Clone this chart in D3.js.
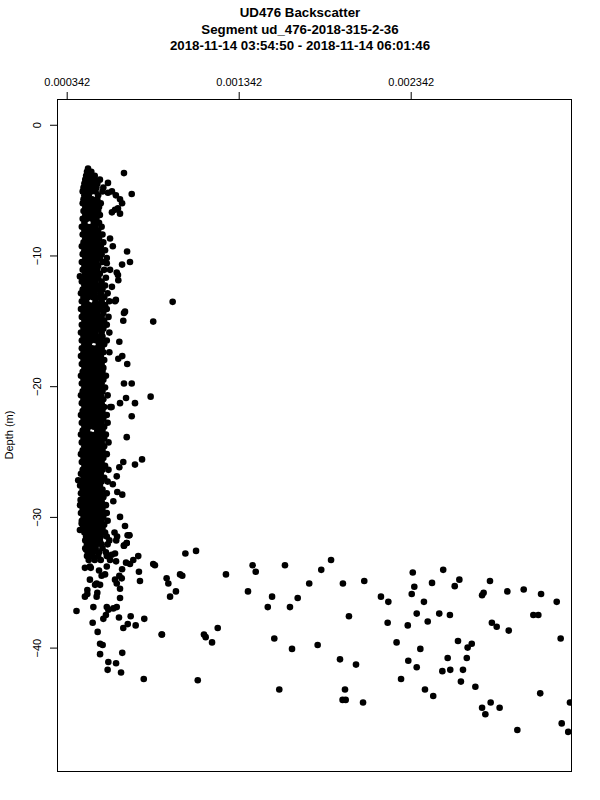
<!DOCTYPE html>
<html>
<head>
<meta charset="utf-8">
<script src="https://cdn.jsdelivr.net/npm/d3@7"></script>
<style>
  body { margin: 0; background: #fff; }
  svg { display: block; font-family: "Liberation Sans", Arial, sans-serif; }
</style>
</head>
<body>
<script>
// backscatter values are written in units of 1e-4
const BS_UNIT = 1e-4;

const titleLines = [
  "UD476 Backscatter",
  "Segment ud_476-2018-315-2-36",
  "2018-11-14 03:54:50 - 2018-11-14 06:01:46"
];
const yLabel = "Depth (m)";
const xTicks = [3.42, 13.42, 23.42];
const yTicks = [0, -10, -20, -30, -40];

// dense part of the profile: [depth, [backscatter...]]
const columnRows = [
  [-3.35, [4.66]],
  [-3.6, [4.60, 4.85]],
  [-3.9, [4.55, 4.80, 5.05]],
  [-4.2, [4.50, 4.75, 5.00, 5.35]],
  [-4.5, [4.45, 4.70, 4.95, 5.20]],
  [-4.8, [4.40, 4.65, 4.90, 5.15, 5.55]],
  [-5.1, [4.35, 4.60, 4.85, 5.10, 5.50]],
  [-5.4, [4.45, 4.70, 5.25]],
  [-5.7, [4.40, 4.65, 4.90, 5.20]],
  [-6.0, [4.35, 4.60, 4.85, 5.10, 5.40]],
  [-6.3, [4.50, 4.75, 5.00, 5.30]],
  [-6.6, [4.40, 4.65, 4.95, 5.25]],
  [-6.9, [4.50, 4.80, 5.05, 5.35]],
  [-7.2, [4.35, 4.60, 4.90, 5.15]],
  [-7.5, [4.45, 5.00, 5.30]],
  [-7.8, [4.30, 4.60, 4.85, 5.10, 5.45]],
  [-8.1, [4.45, 4.70, 4.95, 5.25]],
  [-8.4, [4.35, 4.60, 4.90, 5.20, 5.50]],
  [-8.7, [4.50, 4.75, 5.00, 5.30]],
  [-9.0, [4.40, 4.65, 4.95, 5.20, 5.55]],
  [-9.3, [4.30, 4.55, 4.85, 5.10, 5.40]],
  [-9.6, [4.45, 4.70, 5.00, 5.30, 5.65]],
  [-9.9, [4.35, 4.60, 4.90, 5.15, 5.45]],
  [-10.2, [4.50, 4.75, 5.05, 5.35, 5.75]],
  [-10.5, [4.30, 4.60, 4.85, 5.15, 5.50]],
  [-10.8, [4.45, 4.70, 5.00, 5.25]],
  [-11.1, [4.35, 4.65, 4.90, 5.20, 5.60]],
  [-11.4, [4.50, 4.80, 5.05, 5.35]],
  [-11.7, [4.40, 4.70, 4.95, 5.25, 5.70]],
  [-12.0, [4.30, 4.55, 4.85, 5.10, 5.45]],
  [-12.3, [4.45, 4.75, 5.00, 5.30, 5.65]],
  [-12.6, [4.35, 4.60, 4.90, 5.20, 5.50]],
  [-12.9, [4.25, 4.50, 4.80, 5.05, 5.40, 5.80]],
  [-13.2, [4.40, 4.65, 4.95, 5.25, 5.60]],
  [-13.5, [4.30, 4.55, 5.10, 5.45, 5.90]],
  [-13.8, [4.45, 4.70, 5.00, 5.30, 5.65]],
  [-14.1, [4.25, 4.55, 4.80, 5.10, 5.40, 5.75]],
  [-14.4, [4.40, 4.65, 4.95, 5.20, 5.55]],
  [-14.7, [4.30, 4.60, 4.85, 5.15, 5.45, 5.85]],
  [-15.0, [4.45, 4.70, 5.00, 5.30, 5.60]],
  [-15.3, [4.30, 4.55, 4.85, 5.10, 5.40, 5.75]],
  [-15.6, [4.40, 4.70, 4.95, 5.25, 5.55]],
  [-15.9, [4.25, 4.50, 4.80, 5.10, 5.45, 5.90]],
  [-16.2, [4.40, 4.65, 4.95, 5.20, 5.50]],
  [-16.5, [4.30, 4.55, 4.85, 5.15, 5.40, 5.75]],
  [-16.8, [4.45, 4.70, 5.30, 5.60]],
  [-17.1, [4.30, 4.60, 4.90, 5.15, 5.45]],
  [-17.4, [4.40, 4.65, 4.95, 5.25, 5.55, 5.90]],
  [-17.7, [4.25, 4.55, 4.80, 5.10, 5.40]],
  [-18.0, [4.40, 4.70, 5.00, 5.30, 5.60]],
  [-18.3, [4.30, 4.55, 4.85, 5.15, 5.45]],
  [-18.6, [4.45, 4.70, 4.95, 5.25, 5.55]],
  [-18.9, [4.35, 4.60, 4.90, 5.20, 5.50]],
  [-19.2, [4.25, 4.50, 4.80, 5.05, 5.35, 5.70]],
  [-19.5, [4.40, 4.65, 4.95, 5.25, 5.55]],
  [-19.8, [4.30, 4.55, 4.85, 5.15, 5.45]],
  [-20.1, [4.45, 4.70, 5.00, 5.30, 5.65]],
  [-20.4, [4.35, 4.60, 4.90, 5.20, 5.50]],
  [-20.7, [4.25, 4.50, 4.80, 5.10, 5.40, 5.80]],
  [-21.0, [4.40, 4.70, 4.95, 5.25, 5.55]],
  [-21.3, [4.30, 4.55, 4.85, 5.15, 5.45]],
  [-21.6, [4.45, 4.70, 5.00, 5.30, 5.60, 5.95]],
  [-21.9, [4.35, 4.60, 4.90, 5.20, 5.50]],
  [-22.2, [4.25, 4.50, 4.80, 5.10, 5.40, 5.75]],
  [-22.5, [4.40, 4.65, 4.95, 5.25, 5.55]],
  [-22.8, [4.30, 4.60, 4.85, 5.15, 5.45, 5.80]],
  [-23.1, [4.45, 4.70, 5.00, 5.30, 5.60]],
  [-23.4, [4.35, 4.60, 5.20, 5.50]],
  [-23.7, [4.25, 4.50, 4.80, 5.10, 5.40, 5.70]],
  [-24.0, [4.40, 4.65, 4.95, 5.25, 5.60]],
  [-24.3, [4.30, 4.55, 4.85, 5.15, 5.45, 5.85]],
  [-24.6, [4.45, 4.70, 5.00, 5.30, 5.60]],
  [-24.9, [4.35, 4.60, 4.90, 5.20, 5.50]],
  [-25.2, [4.25, 4.50, 4.80, 5.10, 5.40, 5.75]],
  [-25.5, [4.40, 4.65, 4.95, 5.25, 5.55]],
  [-25.8, [4.30, 4.55, 4.85, 5.15, 5.45]],
  [-26.1, [4.45, 4.70, 5.00, 5.30, 5.65]],
  [-26.4, [4.35, 4.60, 4.90, 5.20, 5.50, 5.85]],
  [-26.7, [4.25, 4.50, 4.80, 5.10, 5.40]],
  [-27.0, [4.40, 4.65, 4.95, 5.25, 5.60]],
  [-27.3, [4.30, 4.55, 4.85, 5.15, 5.45, 5.80]],
  [-27.6, [4.20, 4.45, 4.75, 5.05, 5.35]],
  [-27.9, [4.35, 4.60, 4.90, 5.20, 5.50]],
  [-28.2, [4.25, 4.50, 4.80, 5.10, 5.40, 5.75]],
  [-28.5, [4.40, 4.65, 4.95, 5.25, 5.55]],
  [-28.8, [4.30, 4.55, 4.85, 5.15, 5.45]],
  [-29.1, [4.20, 4.45, 4.75, 5.05, 5.35, 5.70]],
  [-29.4, [4.35, 4.60, 4.90, 5.20, 5.50]],
  [-29.7, [4.25, 4.50, 4.80, 5.10, 5.40, 5.75]],
  [-30.0, [4.40, 4.65, 4.95, 5.25, 5.55]],
  [-30.3, [4.30, 4.55, 4.85, 5.15, 5.45, 5.80]],
  [-30.6, [4.45, 4.70, 5.00, 5.30, 5.60]],
  [-30.9, [4.35, 4.60, 4.90, 5.20, 5.50]],
  [-31.2, [4.45, 4.70, 5.00, 5.30, 5.65, 6.20]],
  [-31.5, [4.55, 4.80, 5.10, 5.40, 5.75, 6.35]],
  [-31.8, [4.50, 4.75, 5.05, 5.35, 5.90, 6.30]],
  [-32.1, [4.60, 4.85, 5.15, 5.45, 5.80]],
  [-32.4, [4.50, 4.80, 5.10, 5.50]],
  [-32.7, [4.65, 4.95, 5.30, 5.70]],
  [-33.0, [4.60, 4.90, 5.25, 5.75]],
  [-33.3, [4.70, 5.05, 5.40]]
];

// points off the dense column: [backscatter, depth]
const columnEdge = [
  [6.75, -3.7], [7.20, -5.3], [5.82, -4.45], [5.82, -5.2], [6.05, -5.1], [6.28, -5.4],
  [6.52, -5.7], [6.64, -6.0], [6.40, -6.4], [6.23, -6.5], [6.05, -6.7], [6.52, -6.8],
  [5.94, -8.7], [6.10, -9.3], [6.93, -9.7], [7.10, -10.5], [6.64, -10.7], [5.75, -10.6],
  [5.94, -11.1], [6.33, -11.3], [6.42, -11.9], [4.19, -11.6], [6.40, -11.5], [6.05, -12.4],
  [6.28, -13.4], [6.23, -13.5], [9.58, -13.55], [8.45, -15.06], [6.75, -14.4], [6.81, -14.3],
  [6.71, -15.0], [6.48, -16.6], [6.65, -17.7], [6.42, -17.9], [6.94, -18.3], [6.75, -19.8],
  [7.20, -19.8], [6.87, -20.9], [8.30, -20.8], [7.39, -21.3], [6.52, -21.3], [6.03, -21.6],
  [7.20, -22.3], [6.91, -23.9], [7.80, -25.6], [6.71, -25.8], [7.39, -26.0], [6.48, -26.2],
  [6.33, -26.9], [4.09, -27.2], [6.10, -27.5], [6.36, -28.1], [6.65, -28.3], [4.23, -28.7],
  [6.13, -28.8], [6.52, -30.0], [4.29, -30.5], [6.81, -30.7], [4.19, -31.0], [6.96, -31.4],
  [6.75, -32.2], [6.91, -32.0], [7.06, -31.4]
];

// lower part of the profile, near the surface column: [backscatter, depth]
const lowerNear = [
  [3.99, -37.2], [4.77, -34.8], [4.48, -33.9], [4.82, -33.9], [4.62, -35.6], [4.62, -35.9],
  [4.48, -36.1], [5.20, -35.8], [5.16, -36.1], [4.97, -36.9], [4.93, -38.1], [5.22, -38.8],
  [5.36, -39.7], [5.51, -39.8], [5.36, -40.5], [5.84, -41.1], [6.29, -41.2], [5.80, -41.7],
  [6.58, -41.9], [6.65, -40.4], [7.43, -38.3], [7.93, -37.8], [7.14, -37.6], [6.97, -38.2],
  [6.71, -38.5], [6.46, -37.7], [6.13, -37.0], [6.33, -36.9], [5.55, -37.8], [5.70, -37.5],
  [5.84, -37.1], [5.75, -36.9], [5.16, -35.1], [5.36, -35.2], [5.07, -35.2], [5.45, -34.5],
  [5.65, -34.4], [5.75, -33.8], [6.04, -32.9], [6.23, -32.8], [5.94, -33.3], [6.29, -33.4],
  [6.48, -34.5], [6.62, -34.7], [6.33, -35.1], [6.23, -34.8], [6.52, -35.5], [6.52, -36.2],
  [6.64, -34.0], [6.87, -33.5], [7.10, -33.6], [7.29, -33.3], [7.58, -33.0], [7.62, -34.2],
  [7.68, -34.9], [6.75, -32.2], [6.91, -32.0], [7.06, -31.4], [4.77, -33.8], [5.30, -34.1],
  [4.54, -32.5], [7.90, -42.4], [8.94, -39.0], [8.45, -33.6], [8.55, -33.7]
];

// scattered high backscatter points below ~33 m: [backscatter, depth]
const lowerFar = [
  [9.23, -34.7], [9.33, -35.1], [10.01, -34.4], [10.14, -34.5], [9.77, -35.7], [9.43, -36.1],
  [10.32, -32.8], [10.94, -32.6], [12.68, -34.4], [14.23, -33.7], [14.41, -34.2], [16.11, -33.7],
  [13.96, -35.7], [15.36, -36.1], [15.11, -36.9], [16.40, -36.9], [16.85, -36.2], [8.96, -39.0],
  [11.40, -39.0], [11.50, -39.2], [11.87, -39.6], [12.20, -38.5], [15.49, -39.3], [16.52, -40.1],
  [11.04, -42.5], [15.78, -43.2],
  [18.79, -33.3], [18.22, -34.05], [17.52, -35.1], [19.48, -35.1], [20.72, -34.9], [19.83, -37.6],
  [21.69, -36.1], [22.12, -36.5], [22.08, -38.1], [23.54, -34.25], [23.63, -35.35], [23.48, -35.9],
  [24.19, -36.5], [23.77, -37.4], [23.25, -38.3], [24.41, -38.0], [24.66, -35.05], [25.31, -34.05],
  [25.08, -37.4], [25.70, -37.5], [25.98, -35.3], [26.25, -34.8], [22.60, -39.6], [23.98, -40.1],
  [23.28, -41.0], [23.77, -41.5], [22.86, -42.4], [24.25, -43.2], [24.73, -43.7], [26.17, -39.5],
  [25.57, -40.8], [25.26, -41.8], [25.72, -41.7], [26.46, -41.7], [26.73, -40.0], [26.97, -39.7],
  [26.68, -40.8], [26.34, -42.6], [27.18, -43.0], [27.57, -36.0], [27.66, -35.8], [28.03, -34.9],
  [28.14, -38.1], [28.42, -38.4], [29.12, -38.7], [29.04, -35.7], [29.99, -35.55], [31.00, -35.9],
  [31.91, -36.5], [30.55, -37.5], [30.84, -37.5], [32.14, -39.3], [27.57, -44.6], [27.76, -45.1],
  [28.07, -44.2], [28.59, -44.6], [29.62, -46.3], [30.95, -43.5], [32.68, -44.2], [32.20, -45.8],
  [32.58, -46.45], [19.31, -40.9], [20.24, -41.3], [19.60, -43.2], [19.46, -44.0], [19.64, -44.0],
  [20.65, -44.2], [18.01, -39.8]
];

const points = columnRows.flatMap(([d, xs]) => xs.map(b => [b, d]))
  .concat(columnEdge, lowerNear, lowerFar);

const width = 600, height = 800;
const box = { left: 57, right: 571, top: 99, bottom: 771 };

const svg = d3.select("body").append("svg")
  .attr("width", width)
  .attr("height", height);

const x = d3.scaleLinear()
  .domain([2.856, 32.74])
  .range([box.left, box.right]);

const y = d3.scaleLinear()
  .domain([1.97, -49.44])
  .range([box.top, box.bottom]);

svg.append("clipPath").attr("id", "plotclip")
  .append("rect")
  .attr("x", box.left).attr("y", box.top)
  .attr("width", box.right - box.left).attr("height", box.bottom - box.top);

// titles
svg.append("g")
  .selectAll("text")
  .data(titleLines)
  .join("text")
    .attr("x", 300)
    .attr("y", (d, i) => 17 + i * 16.5)
    .attr("text-anchor", "middle")
    .attr("font-size", 13.3)
    .attr("font-weight", "bold")
    .text(d => d);

// top axis
const xAxis = d3.axisTop(x)
  .tickValues(xTicks)
  .tickSize(7)
  .tickPadding(6)
  .tickFormat(v => (v * BS_UNIT).toFixed(6));

const gx = svg.append("g")
  .attr("transform", `translate(0,${box.top})`)
  .call(xAxis);
gx.select(".domain").remove();
gx.selectAll("text").attr("font-size", 11).attr("font-family", "Liberation Sans, Arial, sans-serif");
gx.selectAll("line").attr("stroke", "#000");

// left axis
const yAxis = d3.axisLeft(y)
  .tickValues(yTicks)
  .tickSize(7)
  .tickFormat(d => d3.format("d")(d));

const gy = svg.append("g")
  .attr("transform", `translate(${box.left},0)`)
  .call(yAxis);
gy.select(".domain").remove();
gy.selectAll("line").attr("stroke", "#000");
gy.selectAll("text")
  .attr("font-size", 11)
  .attr("font-family", "Liberation Sans, Arial, sans-serif")
  .attr("x", null).attr("dy", null)
  .attr("text-anchor", "middle")
  .attr("transform", "translate(-16.5,0) rotate(-90)");

svg.append("text")
  .attr("transform", `translate(12.5,${(box.top + box.bottom) / 2}) rotate(-90)`)
  .attr("text-anchor", "middle")
  .attr("font-size", 11)
  .text(yLabel);

// points
svg.append("g")
  .attr("clip-path", "url(#plotclip)")
  .selectAll("circle")
  .data(points)
  .join("circle")
    .attr("cx", d => x(d[0]))
    .attr("cy", d => y(d[1]))
    .attr("r", 3.3)
    .attr("fill", "#000");

// box
svg.append("rect")
  .attr("x", box.left + 0.5)
  .attr("y", box.top + 0.5)
  .attr("width", box.right - box.left)
  .attr("height", box.bottom - box.top)
  .attr("fill", "none")
  .attr("stroke", "#000");
</script>
</body>
</html>
